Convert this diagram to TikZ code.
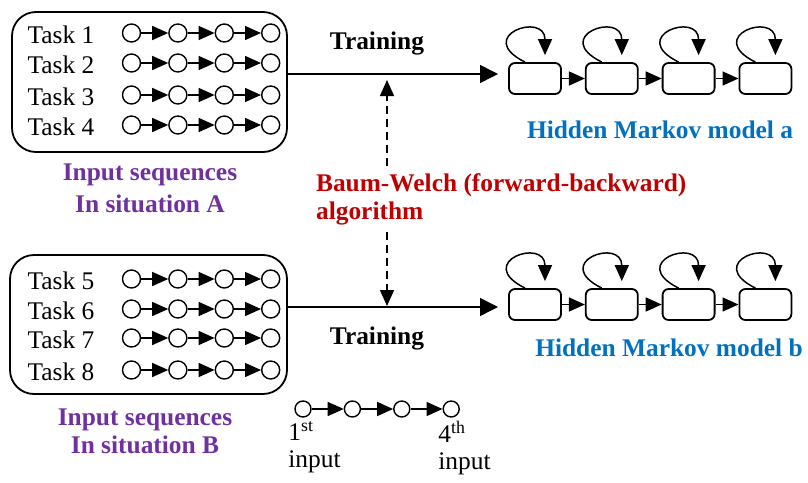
\documentclass[tikz,border=0pt]{standalone}
\usepackage{fontspec}
\setmainfont{Liberation Serif}
\usepackage{tikz}
\usetikzlibrary{arrows.meta,positioning}
\definecolor{seqpurple}{RGB}{112,48,160}
\definecolor{hmmblue}{RGB}{0,112,192}
\definecolor{welchred}{RGB}{192,0,0}

\begin{document}
\begin{tikzpicture}[x=0.5pt, y=-0.5pt, font=\fontsize{12.7}{15}\selectfont]
		\tikzstyle{group} = [rectangle, rounded corners=12pt, draw=black, line width=0.9pt, 
		minimum width=137.5pt, minimum height=70pt]
		\tikzstyle{token} = [circle, draw=black, line width=0.7pt, minimum size=9pt, inner sep=0pt]
		\tikzstyle{hmmstate} = [rectangle, rounded corners=3pt, draw=black, line width=0.9pt, 
		minimum width=26pt, minimum height=15.5pt]
		\tikzstyle{arrow} = [line width=0.75pt, -{Triangle[length=8pt, width=7pt]}]
		\tikzstyle{bigarrow} = [line width=0.75pt, -{Triangle[length=9pt, width=9pt]}]
		\tikzstyle{dasharrow} = [arrow, dash pattern=on 4pt off 2.5pt]
		\tikzstyle{heading} = [font=\fontsize{12.7}{15}\selectfont\bfseries, align=center]
		\useasboundingbox (0,0) rectangle (808,482);
		% input sequences
		\node (groupA) [group] at (149.5,82) {};
		\node (groupB) [group, minimum width=138.5pt, minimum height=69.5pt] at (148.5,324.5) {};
		\foreach \n/\y in {1/33,2/63,3/95,4/125,5/279,6/309,7/338,8/370} {
			\node (task\n) [yshift=-1pt] at (61,\y) {Task \n};
			\node (seq\n-1) [token] at (131.5,\y) {};
			\node (seq\n-2) [token, right=13.5pt of seq\n-1] {};
			\node (seq\n-3) [token, right=13.5pt of seq\n-2] {};
			\node (seq\n-4) [token, right=13.5pt of seq\n-3] {};
			\draw [arrow] (seq\n-1) -- (seq\n-2);
			\draw [arrow] (seq\n-2) -- (seq\n-3);
			\draw [arrow] (seq\n-3) -- (seq\n-4);
		}
		\node (inputA) [heading, text=seqpurple] at (150,188) {Input sequences\\[1pt]In situation A};
		\node (inputB) [heading, text=seqpurple] at (145,431) {Input sequences\\[-1pt]In situation B};
		% hidden markov models
		\foreach \m/\y in {A/78.5,B/304.5} {
			\node (hmm\m1) [hmmstate] at (535,\y) {};
			\node (hmm\m2) [hmmstate, right=11.5pt of hmm\m1] {};
			\node (hmm\m3) [hmmstate, right=11.5pt of hmm\m2] {};
			\node (hmm\m4) [hmmstate, right=11.5pt of hmm\m3] {};
			\foreach \k in {1,...,4}
				\draw [arrow] ([xshift=-5pt]hmm\m\k.north) .. controls +(-26pt,13pt) and +(0pt,22pt) .. ([xshift=5pt, yshift=3.5pt]hmm\m\k.north);
			\draw [arrow] (hmm\m1) -- (hmm\m2);
			\draw [arrow] (hmm\m2) -- (hmm\m3);
			\draw [arrow] (hmm\m3) -- (hmm\m4);
		}
		\node (modelA) [heading, text=hmmblue] at (660,130) {Hidden Markov model a};
		\node (modelB) [heading, text=hmmblue] at (669,348) {Hidden Markov model b};
		% training
		\coordinate (trainA) at (498,74);
		\coordinate (trainB) at (498,307);
		\draw [bigarrow] (groupA.east |- trainA) -- (trainA);
		\draw [bigarrow] (groupB.east |- trainB) -- (trainB);
		\node (trainingA) [heading] at (377,43) {Training};
		\node (trainingB) [heading] at (377,338) {Training};
		\node (baum) [heading, align=left, anchor=west, text=welchred, 
		font=\fontsize{12.7}{14}\selectfont\bfseries] at (309,199) {Baum-Welch (forward-backward)\\algorithm};
		\coordinate (upTip) at (387,80);
		\coordinate (downTip) at (387,306);
		\draw [dasharrow] (baum.north -| upTip) -- (upTip);
		\draw [dasharrow] (baum.south -| upTip) -- (downTip);
		% legend
		\node (first) [token, minimum size=8pt] at (303,409) {};
		\node (second) [token, minimum size=8pt, right=16pt of first] {};
		\node (third) [token, minimum size=8pt, right=16pt of second] {};
		\node (fourth) [token, minimum size=8pt, right=16pt of third] {};
		\draw [arrow] (first) -- (second);
		\draw [arrow] (second) -- (third);
		\draw [arrow] (third) -- (fourth);
		\node (firstLabel) [anchor=north west, align=left, inner sep=0pt, 
		font=\fontsize{12.7}{13.5}\selectfont] at (288,421) {1\textsuperscript{st}\\input};
		\node (lastLabel) [anchor=north west, align=left, inner sep=0pt, 
		font=\fontsize{12.7}{13.5}\selectfont] at (438,421) {4\textsuperscript{th}\\input};
\end{tikzpicture}
\end{document}
